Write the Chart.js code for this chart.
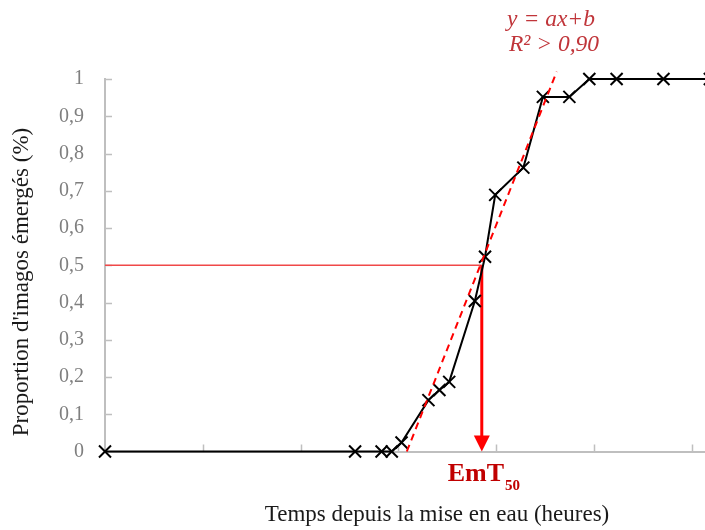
<!DOCTYPE html>
<html>
<head>
<meta charset="utf-8">
<script src="https://cdn.jsdelivr.net/npm/chart.js@4"></script>
<style>
  body { margin: 0; background: #fff; }
  canvas { display: block; }
</style>
</head>
<body>
<canvas id="myChart" width="705" height="530"></canvas>
<script>
'use strict'

/* global Chart */

// heures depuis la mise en eau / proportion cumulee d'imagos
const hours = [0, 61.4, 67.9, 70.4, 72.8, 79.4, 82.1, 84.5, 90.8, 93.3, 95.8, 102.7, 107.5, 114.0, 118.9, 125.6, 137.1, 148.5]
const prop = [0, 0, 0, 0, 0.024, 0.138, 0.165, 0.187, 0.404, 0.523, 0.689, 0.762, 0.952, 0.952, 1, 1, 1, 1]

// droite de regression (y = ax+b)
const fitX = [74.1, 110.9]
const fitY = [0, 1.02]

// EmT50
const emtX = 92.5
const emtY = 0.5

const yTitle = "Proportion d'imagos émergés (%)"
const xTitle = 'Temps depuis la mise en eau (heures)'
const eqLines = ['y = ax+b', 'R² > 0,90']

const serif = '"Liberation Serif", "DejaVu Serif", serif'
const axisGrey = '#bfbfbf'

function pts (xs, ys) {
  return xs.map((x, i) => ({ x: x, y: ys[i] }))
}

const decor = {
  id: 'decor',
  beforeDatasetsDraw (chart) {
    const ctx = chart.ctx
    const xs = chart.scales.x
    const ys = chart.scales.y
    const area = chart.chartArea
    ctx.save()
    ctx.strokeStyle = axisGrey
    ctx.lineWidth = 1.5
    ctx.beginPath()
    for (const t of xs.ticks) {
      if (t.value === 0) continue
      const px = Math.round(xs.getPixelForValue(t.value)) + 0.5
      ctx.moveTo(px, area.bottom)
      ctx.lineTo(px, area.bottom - 7)
    }
    for (const t of ys.ticks) {
      if (t.value === 0) continue
      const py = Math.round(ys.getPixelForValue(t.value)) + 0.5
      ctx.moveTo(area.left, py)
      ctx.lineTo(area.left + 7, py)
    }
    ctx.stroke()
    ctx.restore()
  },
  afterDatasetsDraw (chart) {
    const ctx = chart.ctx
    const xs = chart.scales.x
    const ys = chart.scales.y
    const ax = xs.getPixelForValue(emtX)
    const ay = ys.getPixelForValue(0)
    ctx.save()
    // pointe de fleche
    ctx.fillStyle = '#ff0000'
    ctx.beginPath()
    ctx.moveTo(ax, ay)
    ctx.lineTo(ax - 8, ay - 16)
    ctx.lineTo(ax + 8, ay - 16)
    ctx.closePath()
    ctx.fill()

    // EmT50
    ctx.fillStyle = '#c00000'
    ctx.textBaseline = 'alphabetic'
    ctx.textAlign = 'left'
    ctx.font = 'bold 26px ' + serif
    ctx.fillText('EmT', ax - 34, ay + 29)
    const w = ctx.measureText('EmT').width
    ctx.font = 'bold 15px ' + serif
    ctx.fillText('50', ax - 34 + w + 1, ay + 38)

    // equation
    ctx.fillStyle = '#c0353a'
    ctx.textAlign = 'center'
    ctx.font = 'italic 23.5px ' + serif
    ctx.fillText(eqLines[0], 551, 26)
    ctx.fillText(eqLines[1], 554, 51)

    // titre axe x
    ctx.fillStyle = '#1a1a1a'
    ctx.font = '23px ' + serif
    ctx.fillText(xTitle, 437, 521)

    // titre axe y
    ctx.translate(28, 282)
    ctx.rotate(-Math.PI / 2)
    ctx.fillText(yTitle, 0, 0)
    ctx.restore()
  }
}

const myChart = new Chart(document.querySelector('#myChart'), {
  type: 'line',
  data: {
    datasets: [{
      data: pts([0, emtX], [emtY, emtY]),
      borderColor: '#f04848',
      borderWidth: 1.5,
      pointRadius: 0,
      order: 4
    }, {
      data: pts([emtX, emtX], [emtY, 0.03]),
      borderColor: '#ff0000',
      borderWidth: 3,
      pointRadius: 0,
      order: 3
    }, {
      data: pts(hours, prop),
      borderColor: '#000',
      borderWidth: 2,
      pointStyle: 'crossRot',
      pointRadius: 8.5,
      pointBorderColor: '#000',
      pointBorderWidth: 2,
      clip: false,
      order: 2
    }, {
      data: pts(fitX, fitY),
      borderColor: '#ff0000',
      borderWidth: 2,
      borderDash: [7, 5],
      pointRadius: 0,
      clip: false,
      order: 1
    }]
  },
  options: {
    responsive: false,
    animation: false,
    layout: { autoPadding: false, padding: { top: 79, right: 0, left: 0, bottom: 0 } },
    plugins: {
      legend: { display: false },
      tooltip: { enabled: false }
    },
    scales: {
      x: {
        type: 'linear',
        min: 0,
        max: 147.3,
        afterFit (scale) { scale.height = 78.5 },
        ticks: { display: false, stepSize: 24, includeBounds: false },
        grid: { drawOnChartArea: false, drawTicks: false },
        border: { color: axisGrey, width: 2 }
      },
      y: {
        min: 0,
        max: 1,
        afterFit (scale) { scale.width = 105 },
        ticks: {
          stepSize: 0.1,
          padding: 21,
          color: '#7f7f7f',
          font: { family: serif, size: 20 },
          callback: (v) => {
            const r = Math.round(v * 10) / 10
            return (r === 0 || r === 1) ? String(r) : r.toFixed(1).replace('.', ',')
          }
        },
        grid: { drawOnChartArea: false, drawTicks: false },
        border: { color: axisGrey, width: 2 }
      }
    }
  },
  plugins: [decor]
})
</script>
</body>
</html>
